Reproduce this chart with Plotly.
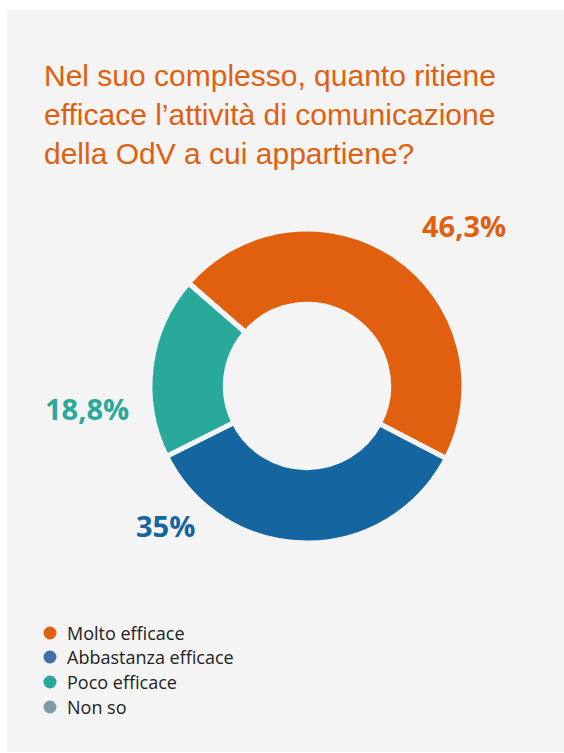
import plotly.graph_objects as go

# Survey answers and shares (%)
categories = ["Molto efficace", "Abbastanza efficace", "Poco efficace", "Non so"]
shares = [46.3, 35, 18.8, 0]
slice_colors = ["#e0600f", "#1565a1", "#29a99c", "#7b9ba6"]
legend_colors = ["#e0600f", "#3f6ea8", "#29a99c", "#7b9ba6"]
card_color = "#f4f4f4"

title_text = ("Nel suo complesso, quanto ritiene<br>"
              "efficace l\u2019attivit\u00e0 di comunicazione<br>"
              "della OdV a cui appartiene?")

W, H = 564, 753


def px_x(x):
    return x / W


def px_y(y):
    return 1 - y / H


def fmt(v):
    return f"{v:g}".replace(".", ",") + "%"


fig = go.Figure()

# donut
cx, cy, r = 307, 386, 157
fig.add_trace(go.Pie(
    labels=categories,
    values=shares,
    sort=False,
    direction="clockwise",
    rotation=-49,
    hole=0.52,
    marker=dict(colors=slice_colors, line=dict(color=card_color, width=5)),
    textinfo="none",
    hoverinfo="label+percent",
    showlegend=False,
    domain=dict(x=[px_x(cx - r), px_x(cx + r)], y=[px_y(cy + r), px_y(cy - r)]),
))

shapes = [
    # light grey card
    dict(type="rect", xref="paper", yref="paper",
         x0=px_x(7), x1=1, y0=px_y(752), y1=px_y(10),
         fillcolor=card_color, line=dict(width=0), layer="below"),
]

annotations = [
    dict(text=title_text, x=px_x(42), y=px_y(57), xref="paper", yref="paper",
         xanchor="left", yanchor="top", align="left", showarrow=False,
         font=dict(family="Liberation Sans, Arial, sans-serif", size=30, color="#e0600f")),
]

# value labels around the ring
label_pos = [(464, 226), (165, 525), (87, 409)]
for (lx, ly), v, c in zip(label_pos, shares[:3], slice_colors[:3]):
    annotations.append(dict(
        text=f"<b>{fmt(v)}</b>", x=px_x(lx), y=px_y(ly), xref="paper", yref="paper",
        xanchor="center", yanchor="middle", showarrow=False,
        font=dict(family="Open Sans, sans-serif", size=29, color=c)))

# legend with round markers
leg_y = [633, 657, 682, 707]
for name, c, ly in zip(categories, legend_colors, leg_y):
    shapes.append(dict(type="circle", xref="paper", yref="paper",
                       x0=px_x(43.5), x1=px_x(56.5), y0=px_y(ly + 6.5), y1=px_y(ly - 6.5),
                       fillcolor=c, line=dict(width=0)))
    annotations.append(dict(
        text=name, x=px_x(65), y=px_y(ly), xref="paper", yref="paper",
        xanchor="left", yanchor="middle", showarrow=False,
        font=dict(family="Open Sans, sans-serif", size=18, color="#222222")))

fig.update_layout(
    width=W, height=H,
    margin=dict(l=0, r=0, t=0, b=0),
    paper_bgcolor="white",
    plot_bgcolor="white",
    shapes=shapes,
    annotations=annotations,
)

fig.write_html("out.html")
